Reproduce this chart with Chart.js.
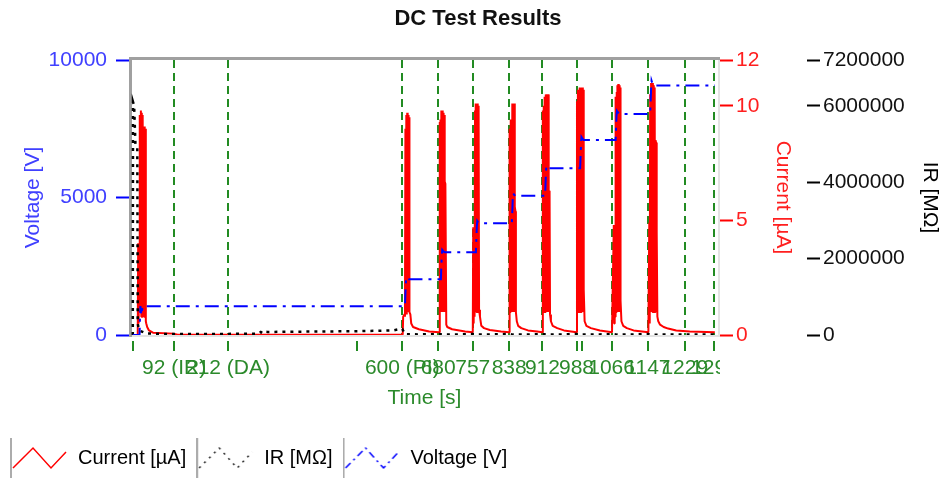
<!DOCTYPE html>
<html>
<head>
<meta charset="utf-8">
<script src="https://cdn.jsdelivr.net/npm/chart.js@4.4.1/dist/chart.umd.min.js"></script>
<style>
html,body{margin:0;padding:0;background:#fff;}
#wrap{width:947px;height:483px;}
</style>
</head>
<body>
<div id="wrap"><canvas id="c" width="947" height="483"></canvas></div>
<script>
// ---------- data ----------
const chartTitle = 'DC Test Results';
const xTitle = 'Time [s]';
const voltageTitle = 'Voltage [V]';
const currentTitle = 'Current [µA]';
const irTitle = 'IR [MΩ]';

const xTickValues = [0, 92, 212, 500, 600, 680, 757, 838, 912, 988, 1000, 1066, 1147, 1229, 1295];
const xTickLabels = ['', '92 (IR)', '212 (DA)', '', '600 (PI)', '680', '757', '838', '912', '988', '', '1066', '1147', '1229', '1295'];
const eventTimes = [92, 212, 600, 680, 757, 838, 912, 988, 1066, 1147, 1229, 1295];

const voltageTicks = [0, 5000, 10000];
const currentTicks = [0, 5, 10, 12];
const irTicks = [0, 2000000, 4000000, 6000000, 7200000];

const voltageTime = [0, 15, 16, 17, 18, 19, 20, 22,
  606, 607, 608, 609, 611, 614,
  686, 687, 688, 689, 691, 694,
  764, 765, 766, 767, 769, 772,
  844, 845, 846, 847, 849, 852,
  918, 919, 920, 921, 923, 926,
  996, 997, 998, 999, 1001, 1004,
  1075, 1076, 1077, 1078, 1080, 1083,
  1152, 1153, 1154, 1155, 1157, 1160,
  1296];
const voltageValues = [0, 0, 600, 1050, 900, 720, 850, 1050,
  1050, 1500, 1900, 2100, 2080, 2030,
  2030, 2500, 2900, 3100, 3060, 3010,
  3010, 3500, 3950, 4150, 4100, 4060,
  4060, 4500, 4950, 5150, 5100, 5060,
  5060, 5500, 5950, 6150, 6100, 6060,
  6060, 6500, 6950, 7200, 7150, 7090,
  7090, 7500, 7950, 8150, 8100, 8040,
  8040, 8500, 8950, 9250, 9150, 9070,
  9070];

const currentTime = [
  0, 11, 12, 13, 14, 15, 16, 17, 18, 19, 20, 21, 22, 23, 24, 25, 26, 27, 28, 29, 30, 32, 36, 45, 90, 100,
  601, 602, 605, 606, 607, 608, 609, 610, 611, 612, 613, 614, 615, 616, 618, 620, 624, 637, 660,
  682, 683, 684, 685, 686, 687, 688, 689, 690, 691, 692, 693, 694, 695, 696, 698, 700, 711, 740,
  757, 758, 759, 760, 761, 762, 763, 764, 765, 766, 767, 768, 769, 770, 771, 773, 776, 782, 795, 820,
  838, 839, 840, 841, 842, 843, 844, 845, 846, 847, 848, 849, 850, 851, 852, 853, 855, 858, 865, 880, 900,
  912, 913, 914, 915, 916, 917, 918, 919, 920, 921, 922, 923, 924, 925, 926, 927, 928, 929, 931, 935, 945, 960,
  988, 989, 990, 991, 992, 993, 994, 995, 996, 997, 998, 999, 1000, 1001, 1002, 1003, 1004, 1006, 1010, 1020, 1040,
  1067, 1071, 1072, 1073, 1074, 1075, 1076, 1077, 1078, 1079, 1080, 1081, 1082, 1083, 1084, 1085, 1086, 1088, 1092, 1100, 1115,
  1148, 1150, 1151, 1152, 1153, 1154, 1155, 1156, 1157, 1158, 1159, 1160, 1161, 1162, 1163, 1164, 1165, 1166, 1167, 1168, 1170, 1174, 1182, 1192, 1210, 1240, 1296
];
const currentValues = [
  0, 0, 4.0, 0.5, 3.8, 1.0, 9.6, 1.0, 9.8, 0.8, 9.7, 0.8, 9.6, 1.0, 9.1, 0.8, 9.1, 0.9, 9.0, 0.6, 0.5, 0.35, 0.2, 0.1, 0.06, 0.01,
  0.02, 0.8, 0.9, 0.8, 9.0, 0.9, 9.6, 0.9, 9.7, 1.0, 9.6, 1.0, 9.5, 1.0, 0.9, 0.5, 0.35, 0.25, 0.15,
  0.12, 9.3, 1.0, 9.4, 1.0, 9.8, 1.0, 9.8, 1.0, 9.7, 1.0, 9.6, 1.0, 6.7, 6.6, 0.45, 0.35, 0.25, 0.15,
  0.12, 4.7, 0.5, 4.6, 0.8, 9.8, 1.0, 10.1, 1.0, 10.0, 1.0, 10.1, 1.0, 10.0, 1.1, 0.8, 0.4, 0.3, 0.22, 0.15,
  0.12, 9.0, 1.0, 9.4, 1.0, 9.4, 1.0, 10.1, 1.0, 10.0, 1.0, 10.1, 1.0, 5.6, 5.4, 1.0, 0.6, 0.4, 0.3, 0.2, 0.15,
  0.12, 9.8, 1.0, 10.0, 1.0, 10.4, 1.0, 10.5, 1.0, 10.5, 1.0, 10.4, 1.0, 10.5, 1.0, 6.3, 6.1, 0.9, 0.6, 0.4, 0.3, 0.2,
  0.12, 10.2, 1.0, 10.7, 1.0, 10.6, 1.0, 10.8, 1.0, 10.7, 1.0, 10.8, 1.0, 10.8, 1.0, 10.7, 2.0, 0.6, 0.4, 0.3, 0.2,
  0.12, 4.8, 0.5, 4.7, 0.8, 10.4, 1.0, 10.6, 1.0, 10.9, 1.0, 10.95, 1.0, 10.9, 1.0, 10.8, 1.5, 0.6, 0.4, 0.3, 0.2,
  0.12, 4.9, 0.5, 10.5, 1.0, 11.0, 1.0, 10.9, 1.0, 11.0, 1.0, 10.9, 1.0, 10.8, 1.0, 8.5, 8.4, 4.6, 4.5, 0.8, 0.6, 0.45, 0.35, 0.28, 0.2, 0.15, 0.12
];

const irTime = [0, 0.5, 3, 6, 10, 11, 14, 30, 60, 120,
  200, 280, 285, 290, 295, 300, 400, 500, 580, 596,
  600, 606, 640, 682, 690, 720, 758, 765, 800, 838,
  846, 880, 912, 920, 960, 988, 998, 1040, 1068, 1078,
  1120, 1147, 1156, 1200, 1296];
const irValues = [0, 6100000, 6000000, 4950000, 4900000, 300000, 120000, 40000, 30000, 25000,
  28000, 35000, 80000, 40000, 85000, 80000, 90000, 100000, 120000, 160000,
  160000, 20000, 15000, 25000, 10000, 15000, 25000, 10000, 15000, 25000,
  10000, 15000, 25000, 10000, 15000, 25000, 10000, 15000, 25000, 10000,
  15000, 25000, 8000, 12000, 12000];

// ---------- styling ----------
const GREEN = '#228b22';
const GREEN_TXT = '#2b8a2b';
const BLUE = '#0000ff';
const BLUE_TXT = '#4040ff';
const RED = '#ff0000';
const RED_TXT = '#ff1f1f';
const FONT = "'Liberation Sans', Arial, sans-serif";
Chart.defaults.font.family = FONT;

function pts(xs, ys) { return xs.map((x, i) => ({x: x, y: ys[i]})); }

function legendSample(color, dash, width) {
  const c = document.createElement('canvas');
  c.width = 58; c.height = 46;
  const g = c.getContext('2d');
  g.strokeStyle = '#acacac'; g.lineWidth = 2;
  g.beginPath(); g.moveTo(1, 46); g.lineTo(1, 1); g.lineTo(58, 1); g.stroke();
  g.strokeStyle = color; g.lineWidth = width; g.setLineDash(dash);
  g.beginPath(); g.moveTo(3, 33); g.lineTo(23, 13); g.lineTo(41, 33); g.lineTo(56, 17); g.stroke();
  return c;
}

const framePlugin = {
  id: 'frame',
  afterLayout(chart) {
    const t = chart.titleBlock;
    if (t) { t.left += 4.5; t.right += 4.5; }
  },
  beforeDatasetsDraw(chart) {
    const {ctx, chartArea: a} = chart;
    ctx.save();
    ctx.strokeStyle = '#e3e3e3'; ctx.lineWidth = 2;
    ctx.beginPath(); ctx.moveTo(a.left, a.bottom + 1); ctx.lineTo(a.right + 1, a.bottom + 1); ctx.lineTo(a.right + 1, a.top); ctx.stroke();
    ctx.strokeStyle = '#a0a0a0'; ctx.lineWidth = 3;
    ctx.beginPath(); ctx.moveTo(a.left - 0.5, a.bottom + 2); ctx.lineTo(a.left - 0.5, a.top - 1.5); ctx.lineTo(a.right + 2, a.top - 1.5); ctx.stroke();
    ctx.restore();
  },
  afterDraw(chart) {
    // the reference clips the last time label at the plot's right edge
    const {ctx, chartArea: a} = chart;
    ctx.save(); ctx.fillStyle = '#fff'; ctx.fillRect(a.right + 2, a.bottom + 17, 60, 36); ctx.restore();
  }
};

new Chart(document.getElementById('c'), {
  type: 'line',
  data: {
    datasets: [
      { label: currentTitle, data: pts(currentTime, currentValues), yAxisID: 'yCur', order: 3,
        borderColor: RED, backgroundColor: RED, borderWidth: 2, pointRadius: 0, fill: false, tension: 0,
        borderJoinStyle: 'bevel', pointStyle: legendSample(RED, [], 1.5) },
      { label: irTitle, data: pts(irTime, irValues), yAxisID: 'yIR', order: 2,
        borderColor: '#000', backgroundColor: '#000', borderWidth: 2.5, borderDash: [3, 5], pointRadius: 0, fill: false, tension: 0,
        pointStyle: legendSample('#222', [2, 5], 1.5) },
      { label: voltageTitle, data: pts(voltageTime, voltageValues), yAxisID: 'y', order: 1,
        borderColor: BLUE, backgroundColor: BLUE, borderWidth: 2, borderDash: [14, 6, 3, 6], pointRadius: 0, fill: false, tension: 0,
        pointStyle: legendSample(BLUE, [7, 4, 2, 4], 1.5) }
    ]
  },
  options: {
    responsive: false, animation: false, devicePixelRatio: 1, events: [],
    layout: { padding: { left: 0, right: 0, top: 0, bottom: 5 } },
    plugins: {
      title: { display: true, text: chartTitle, color: '#111', font: { size: 22, weight: 'bold', family: FONT },
        padding: { top: 6, bottom: 27.6 } },
      legend: { display: true, position: 'bottom', align: 'start',
        labels: { usePointStyle: true, pointStyleWidth: 58, padding: 10, color: '#000',
          font: { size: 20, family: FONT }, sort: (a, b) => a.datasetIndex - b.datasetIndex } },
      tooltip: { enabled: false }
    },
    scales: {
      x: {
        type: 'linear', min: -4, max: 1303,
        afterBuildTicks: s => { s.ticks = xTickValues.map(v => ({ value: v })); },
        afterFit: s => { s.height = 103; },
        grid: { color: c => (c.tick && eventTimes.includes(c.tick.value)) ? GREEN : 'rgba(0,0,0,0)',
          lineWidth: 2, drawOnChartArea: true, drawTicks: true, tickLength: 16, tickColor: GREEN, tickWidth: 2,
          tickBorderDash: [10, 40], tickBorderDashOffset: -6 },
        border: { display: false, dash: [8, 5] },
        ticks: { autoSkip: false, maxRotation: 0, minRotation: 0, padding: 5, color: GREEN_TXT, font: { size: 21 },
          callback: v => { const i = xTickValues.indexOf(v); return i >= 0 ? xTickLabels[i] : ''; } },
        title: { display: true, text: xTitle, color: GREEN_TXT, font: { size: 21 }, padding: { top: 0, bottom: 27 } }
      },
      y: {
        position: 'left', min: 0, max: 10000,
        afterBuildTicks: s => { s.ticks = voltageTicks.map(v => ({ value: v })); },
        afterFit: s => { s.width = 131; },
        grid: { drawOnChartArea: false, tickLength: 15, tickColor: BLUE, tickWidth: 2 },
        border: { display: false },
        ticks: { color: BLUE_TXT, font: { size: 21 }, padding: 9, callback: v => String(v) },
        title: { display: true, text: voltageTitle, color: BLUE_TXT, font: { size: 21 }, padding: { top: 21, bottom: 0 } }
      },
      yCur: {
        position: 'right', min: 0, max: 12,
        afterBuildTicks: s => { s.ticks = currentTicks.map(v => ({ value: v })); },
        afterFit: s => { s.width = 89; },
        grid: { drawOnChartArea: false, tickLength: 15, tickColor: RED, tickWidth: 2 },
        border: { display: false },
        ticks: { color: RED_TXT, font: { size: 21 }, padding: 3, callback: v => String(v) },
        title: { display: true, text: currentTitle, color: RED_TXT, font: { size: 21 }, padding: { top: 11.4, bottom: 0 } }
      },
      yIR: {
        position: 'right', min: 0, max: 7200000,
        afterBuildTicks: s => { s.ticks = irTicks.map(v => ({ value: v })); },
        afterFit: s => { s.width = 140; },
        grid: { drawOnChartArea: false, tickLength: 13, tickColor: '#000', tickWidth: 2 },
        border: { display: false },
        ticks: { color: '#111', font: { size: 21 }, padding: 3, callback: v => String(v) },
        title: { display: true, text: irTitle, color: '#000', font: { size: 21 }, padding: { top: 4.4, bottom: 0 } }
      }
    }
  },
  plugins: [framePlugin]
});
</script>
</body>
</html>
